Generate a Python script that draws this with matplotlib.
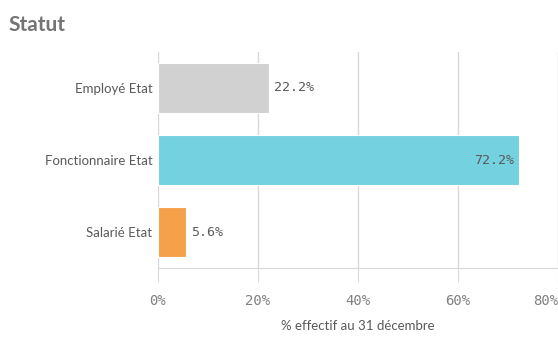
import matplotlib
matplotlib.use("Agg")
import matplotlib.pyplot as plt

categories = ["Employé Etat", "Fonctionnaire Etat", "Salarié Etat"]
values = [22.2, 72.2, 5.6]
colors = ["#d1d1d1", "#74d1df", "#f5a04a"]
xticks = [0, 20, 40, 60, 80]

text_col = "#595959"
grid_col = "#d9d9d9"

fig = plt.figure(figsize=(5.58, 3.38), dpi=100)
ax = fig.add_axes([158/558, 70/338, 400/558, 216/338])

ypos = list(range(len(categories)))
ax.barh(ypos, values, height=0.7, color=colors, edgecolor="white", linewidth=0.8, zorder=3)
ax.set_ylim(len(categories) - 0.5, -0.5)
ax.set_xlim(0, 80)

for y, v in zip(ypos, values):
    if v > 60:
        ax.text(v - 1.0, y, "%.1f%%" % v, ha="right", va="center",
                fontsize=9.5, family="DejaVu Sans Mono", color=text_col, zorder=4)
    else:
        ax.text(v + 1.0, y, "%.1f%%" % v, ha="left", va="center",
                fontsize=9.5, family="DejaVu Sans Mono", color=text_col, zorder=4)

ax.set_yticks(ypos)
ax.set_yticklabels(categories, fontsize=9.5, family="Lato", color=text_col)
ax.set_xticks(xticks)
ax.set_xticklabels(["%d%%" % t for t in xticks], fontsize=10, family="DejaVu Sans Mono", color="#808080")
ax.get_xticklabels()[-1].set_ha("right")
ax.tick_params(axis="y", length=0, pad=4)
ax.tick_params(axis="x", length=10, color=grid_col, pad=9)

ax.grid(axis="x", color=grid_col, linewidth=1, zorder=0)
for s in ["top", "right"]:
    ax.spines[s].set_visible(False)
ax.spines["left"].set_visible(False)
ax.spines["bottom"].set_color(grid_col)

ax.set_xlabel("% effectif au 31 décembre", fontsize=9.5, family="Lato", color=text_col, labelpad=8)
fig.text(8/558, 1 - 25/338, "Statut", fontsize=15, fontweight="bold", family="Lato",
         color="#747474", va="center", ha="left")

fig.savefig("out.png", dpi=100)
